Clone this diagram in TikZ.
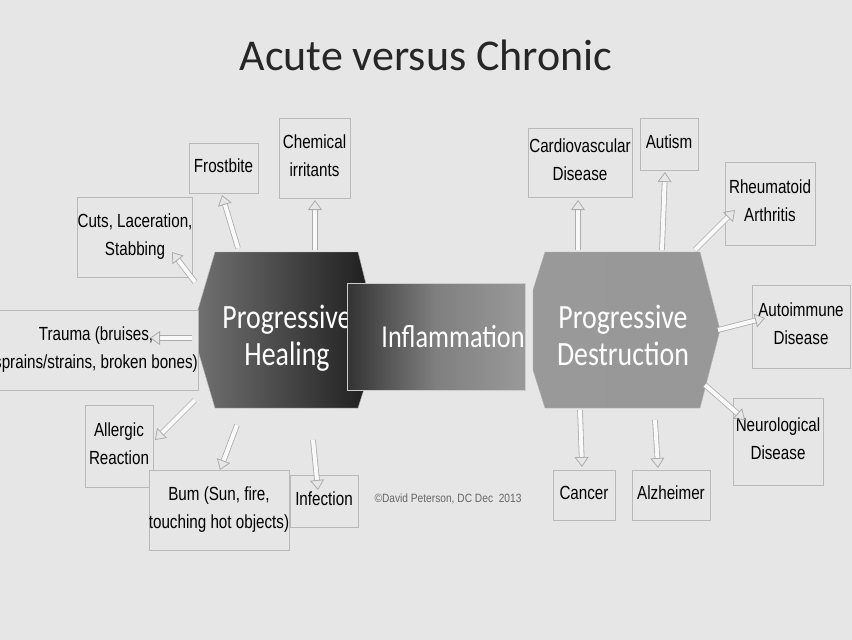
\documentclass[tikz,border=0pt]{standalone}
\usepackage{fontspec}
\setmainfont{Carlito}
\newfontfamily\narrowf{Liberation Sans}
\usetikzlibrary{arrows.meta,shadings}
\definecolor{bg}{HTML}{E6E6E6}
\newcommand{\nbt}[2][0.8]{\scalebox{#1}[1]{\begin{tabular}{@{}c@{}}#2\end{tabular}}}
\tikzset{
 lbl/.style={draw=gray!55,fill=bg,font=\narrowf\fontsize{19}{20}\selectfont,align=center,inner sep=0pt,anchor=center},
 blk/.style={draw=gray!65,double=white!95!gray,double distance=4pt,line width=0.8pt,-{Triangle[open,length=10pt,width=14pt]}},
 big/.style={font=\fontsize{34}{30}\selectfont,text=white,align=center}
}
\begin{document}
\begin{tikzpicture}[x=1pt,y=-1pt]
\useasboundingbox[fill=bg] (0,0) rectangle (852,640);
\node[font=\fontsize{44}{48}\selectfont,text=black!85] (title) at (426,55) {Acute versus Chronic};
% shapes
\shade[left color=black!55,right color=black!88,draw=gray!60] (192,330) -- (215,252) -- (358,252) -- (370,300) -- (370,370) -- (358,408) -- (215,408) -- cycle;
\node[big] (heal) at (287,340) {\nbt[0.82]{Progressive\\[4pt]Healing}};
\shade[left color=black!40,right color=black!45!white!90,draw=gray!60] (545,252) -- (700,252) -- (720,330) -- (700,408) -- (545,408) -- (533,370) -- (533,290) -- cycle;
\node[big] (destr) at (623,340) {\nbt[0.82]{Progressive\\[4pt]Destruction}};
\shade[left color=black!80,right color=black!40,middle color=black!50,draw=gray!40,line width=1pt] (347,283) rectangle (525,390);
\node[big,font=\fontsize{32}{30}\selectfont] (infl) at (453,341) {\nbt[0.82]{Inflammation}};
\node[font=\narrowf\fontsize{12}{14}\selectfont,text=black!60] (copy) at (448,500) {\nbt[0.85]{\textcopyright David Peterson, DC Dec\ \ 2013}};
% arrow anchor coordinates
\coordinate (t1) at (195,282); \coordinate (t2) at (238,248); \coordinate (t3) at (315,250);
\coordinate (t4) at (192,338); \coordinate (t5) at (195,400); \coordinate (t6) at (237,425);
\coordinate (t7) at (313,440); \coordinate (r1) at (578,250); \coordinate (r2) at (662,250);
\coordinate (r3) at (695,250); \coordinate (r4) at (718,330); \coordinate (r5) at (705,385);
\coordinate (r6) at (580,410); \coordinate (r7) at (655,420);
% boxes
\node[lbl,minimum width=69,minimum height=50] (frost) at (223.5,168) {\nbt{Frostbite}};
\node[lbl,minimum width=71,minimum height=80] (chem) at (314.5,158) {\nbt{Chemical\\[8pt]irritants}};
\node[lbl,minimum width=114,minimum height=80] (cuts) at (135,237) {\nbt{Cuts, Laceration,\\[8pt]Stabbing}};
\node[lbl,minimum width=192,minimum height=80] (trauma) at (96,350) {\nbt{Trauma (bruises,\\[8pt]sprains/strains, broken bones)}};
\node[lbl,minimum width=68,minimum height=82] (allerg) at (119,446) {\nbt{Allergic\\[8pt]Reaction}};
\node[lbl,minimum width=138,minimum height=80] (burn) at (219,510) {\nbt{Bum (Sun, fire,\\[8pt]touching hot objects)}};
\node[lbl,minimum width=68,minimum height=52] (infec) at (324,501) {\nbt{Infection}};
\node[lbl,minimum width=104,minimum height=69] (cardio) at (580,162.5) {\nbt{Cardiovascular\\[8pt]Disease}};
\node[lbl,minimum width=58,minimum height=52] (autism) at (669,144) {\nbt{Autism}};
\node[lbl,minimum width=90,minimum height=83] (rheum) at (770,203.5) {\nbt{Rheumatoid\\[8pt]Arthritis}};
\node[lbl,minimum width=98,minimum height=83] (autoim) at (801,326.5) {\nbt{Autoimmune\\[8pt]Disease}};
\node[lbl,minimum width=90,minimum height=87] (neuro) at (778,441.5) {\nbt{Neurological\\[8pt]Disease}};
\node[lbl,minimum width=62,minimum height=50] (cancer) at (584,495) {\nbt{Cancer}};
\node[lbl,minimum width=78,minimum height=50] (alz) at (671,495) {\nbt{Alzheimer}};
\draw[blk] (t1) -- (172,252);
\draw[blk] (t2) -- (222,195);
\draw[blk] (t3) -- (315,200);
\draw[blk] (t4) -- (150,338);
\draw[blk] (t5) -- (155,440);
\draw[blk] (t6) -- (220,470);
\draw[blk] (t7) -- (318,490);
\draw[blk] (r1) -- (578,200);
\draw[blk] (r2) -- (665,172);
\draw[blk] (r3) -- (735,210);
\draw[blk] (r4) -- (765,318);
\draw[blk] (r5) -- (745,420);
\draw[blk] (r6) -- (582,467);
\draw[blk] (r7) -- (658,468);
\end{tikzpicture}
\end{document}
